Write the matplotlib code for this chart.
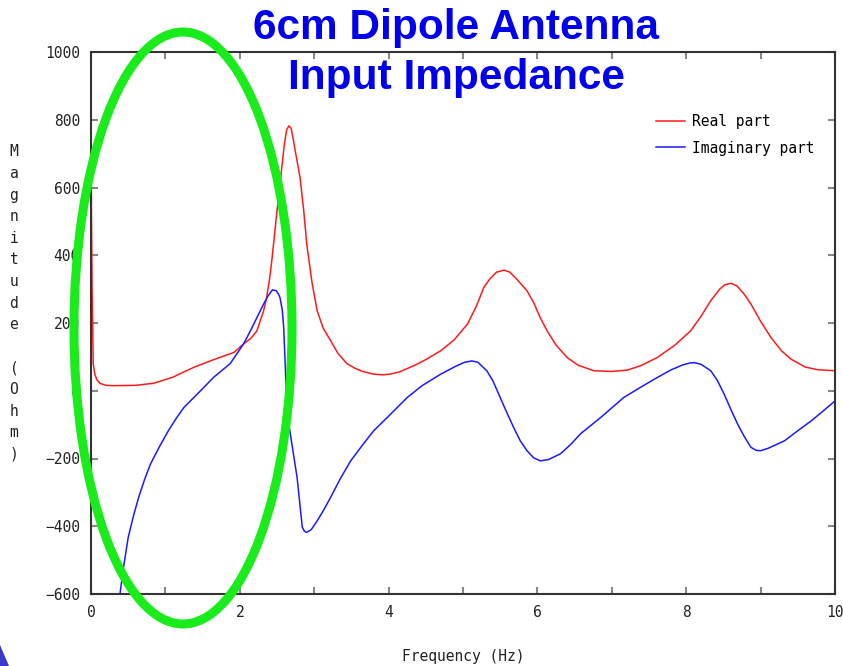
import matplotlib
matplotlib.use("Agg")
import matplotlib.pyplot as plt
from matplotlib.patches import Ellipse, Polygon
from matplotlib.ticker import MultipleLocator

# ---- data ----
real_freq = [0, 0.005, 0.015, 0.03, 0.05, 0.08, 0.12, 0.2, 0.3, 0.6, 0.84, 1.1, 1.38,
             1.65, 1.92, 2.05, 2.15, 2.23, 2.32, 2.36, 2.40, 2.43, 2.50, 2.56, 2.60,
             2.63, 2.66, 2.69, 2.72, 2.76, 2.81, 2.86, 2.90, 2.97, 3.04, 3.12, 3.22,
             3.32, 3.44, 3.55, 3.65, 3.80, 3.92, 4.02, 4.15, 4.35, 4.50, 4.70, 4.88,
             5.06, 5.18, 5.28, 5.36, 5.45, 5.55, 5.63, 5.72, 5.80, 5.86, 5.95, 6.04,
             6.13, 6.25, 6.40, 6.55, 6.76, 7.00, 7.21, 7.40, 7.61, 7.85, 8.06, 8.20,
             8.33, 8.45, 8.52, 8.60, 8.68, 8.78, 8.87, 9.00, 9.14, 9.28, 9.41, 9.60,
             9.77, 10.0]
real_vals = [910, 540, 300, 79, 50, 32, 22, 16, 15, 16, 22, 40, 69,
             92, 113, 138, 155, 177, 236, 275, 330, 384, 531, 650, 730,
             770, 782, 775, 740, 690, 629, 530, 433, 320, 236, 185, 148,
             110, 80, 66, 57, 49, 47, 49, 56, 75, 92, 118, 150,
             197, 250, 305, 330, 350, 356, 350, 330, 310, 295, 260, 215,
             177, 135, 98, 75, 59, 57, 61, 75, 98, 135, 177, 220,
             266, 300, 313, 317, 310, 285, 256, 205, 157, 118, 93, 70,
             62, 59]

imag_freq = [0.39, 0.43, 0.50, 0.57, 0.64, 0.72, 0.80, 0.92, 1.04, 1.15, 1.25, 1.45,
             1.65, 1.87, 2.05, 2.15, 2.23, 2.32, 2.38, 2.44, 2.49, 2.52, 2.54, 2.57,
             2.59, 2.61, 2.63, 2.66, 2.70, 2.77, 2.81, 2.84, 2.87, 2.90, 2.96, 3.04,
             3.12, 3.22, 3.35, 3.49, 3.65, 3.80, 4.00, 4.25, 4.45, 4.70, 4.90, 5.02,
             5.12, 5.20, 5.32, 5.40, 5.50, 5.59, 5.68, 5.77, 5.86, 5.95, 6.04, 6.15,
             6.31, 6.45, 6.58, 6.85, 7.16, 7.40, 7.61, 7.80, 7.95, 8.05, 8.11, 8.20,
             8.33, 8.42, 8.51, 8.60, 8.69, 8.78, 8.87, 8.94, 9.00, 9.10, 9.20, 9.32,
             9.50, 9.68, 9.85, 10.0]
imag_vals = [-600, -531, -433, -370, -315, -262, -216, -165, -118, -80, -49, -5,
             40, 80, 138, 180, 216, 256, 280, 298, 295, 285, 275, 240,
             187, 80, -29, -100, -157, -256, -340, -403, -415, -418, -410, -384,
             -355, -315, -260, -207, -160, -118, -75, -20, 15, 49, 72, 84,
             88, 84, 59, 30, -20, -65, -108, -148, -177, -198, -207, -203,
             -186, -158, -127, -79, -20, 12, 39, 62, 76, 82, 83, 78,
             59, 30, -10, -55, -98, -135, -167, -176, -177, -170, -160, -148,
             -118, -89, -58, -30]

series_labels = ["Real part", "Imaginary part"]
title_lines = ["6cm Dipole Antenna", "Input Impedance"]
x_label = "Frequency (Hz)"
y_label = "Magnitude (Ohm)"

W, H = 843, 666
fig = plt.figure(figsize=(W / 100, H / 100), dpi=100)
fig.patch.set_facecolor("white")

def fx(px):
    return px / W

def fy(py):
    return 1 - py / H

ax = fig.add_axes([fx(91), fy(594), fx(835) - fx(91), fy(52) - fy(594)])
ax.plot(real_freq, real_vals, color="#ff1a1a", lw=1.1, label=series_labels[0])
ax.plot(imag_freq, imag_vals, color="#1a1aff", lw=1.1, label=series_labels[1])
ax.set_xlim(0, 10)
ax.set_ylim(-600, 1000)
ax.xaxis.set_major_locator(MultipleLocator(2))
ax.xaxis.set_minor_locator(MultipleLocator(1))
ax.yaxis.set_major_locator(MultipleLocator(200))

mono = "DejaVu Sans Mono"
ax.tick_params(which="both", direction="in", top=True, right=True,
               color="#888888", width=1.5)
ax.tick_params(which="major", length=5, labelsize=10.5, pad=8)
ax.tick_params(which="minor", length=5)
for lab in ax.get_xticklabels() + ax.get_yticklabels():
    lab.set_fontfamily(mono)
    lab.set_color("#222222")
for s in ax.spines.values():
    s.set_color("#333333")
    s.set_linewidth(1.5)

fig.legend(handles=ax.get_lines(), labels=series_labels,
           loc="upper left", bbox_to_anchor=(fx(643), fy(101)),
           frameon=False, prop={"family": mono, "size": 10.5},
           handlelength=2.0, handletextpad=0.45, labelspacing=0.78)

# axis labels
fig.text(fx(463), fy(657), x_label, family=mono, fontsize=10.5,
         ha="center", va="center", color="#222222")
for i, ch in enumerate(y_label):
    if ch == " ":
        continue
    fig.text(fx(14), fy(152 + i * 21.6), ch, family=mono, fontsize=10.5,
             ha="center", va="center", color="#222222")

# slide title
fig.text(fx(456), fy(28), title_lines[0], family="Liberation Sans", weight="bold",
         fontsize=30.5, color="#0000ee", ha="center", va="center")
fig.text(fx(456), fy(78), title_lines[1], family="Liberation Sans", weight="bold",
         fontsize=30.5, color="#0000ee", ha="center", va="center")

# green annotation ellipse
ell = Ellipse((fx(183), fy(328)), width=218 / W, height=592 / H,
              transform=fig.transFigure, fill=False, edgecolor="#1aeb1a",
              linewidth=6.5, zorder=10)
fig.add_artist(ell)

# small slide corner decoration
tri = Polygon([(0, fy(645)), (fx(9), 0), (0, 0)], closed=True,
              transform=fig.transFigure, facecolor="#3a3acc", edgecolor="none")
fig.add_artist(tri)

fig.savefig("out.png", dpi=100)
